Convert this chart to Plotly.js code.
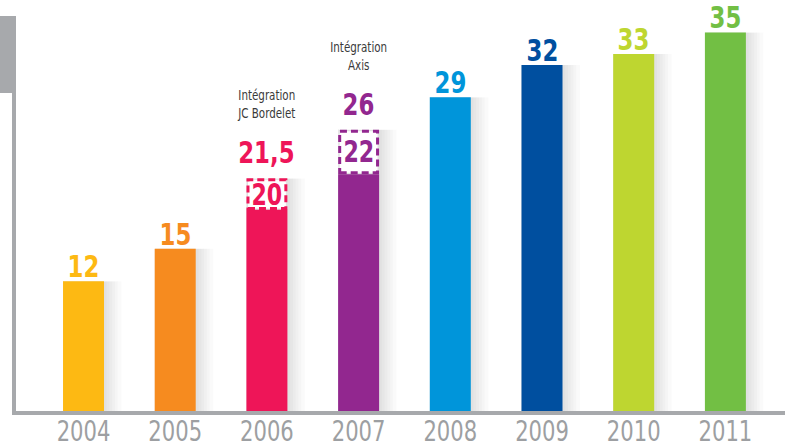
<!DOCTYPE html>
<html>
<head>
<meta charset="utf-8">
<script src="https://cdn.plot.ly/plotly-3.0.1.min.js"></script>
<style>html,body{margin:0;padding:0;background:#fff;}#chart{width:785px;height:446px;}</style>
</head>
<body>
<div id="chart"></div>
<script>
// ---- data ----
const years = ['2004', '2005', '2006', '2007', '2008', '2009', '2010', '2011'];
const totals = [12, 15, 21.5, 26, 29, 32, 33, 35];
const acquired = [0, 0, 2.9, 4.1, 0, 0, 0, 0];
const valueLabels = ['12', '15', '21,5', '26', '29', '32', '33', '35'];
const organicLabels = ['', '', '20', '22', '', '', '', ''];
const notes = ['', '', 'Intégration<br>JC Bordelet', 'Intégration<br>Axis', '', '', '', ''];
const colors = ['#fdb913', '#f68b1f', '#ee1558', '#92278f', '#0095da', '#004f9f', '#bed630', '#72bf44'];

// ---- styles ----
const COND = '"DejaVu Sans Condensed", "Liberation Sans Narrow", sans-serif';
const barW = 0.447;
const GRAY = '#a7a9ac';

const solid = totals.map((t, i) => t - acquired[i]);

const traces = [];
// soft shadow layers
[0.03, 0.06, 0.09, 0.12, 0.15, 0.19].forEach(d => {
  traces.push({
    type: 'bar', x: years, y: totals,
    width: barW + d, offset: -barW / 2,
    marker: {color: 'rgba(110,112,120,0.035)', line: {width: 0}},
    hoverinfo: 'skip', showlegend: false
  });
});
traces.push({
  type: 'bar', x: years, y: solid,
  width: barW, offset: -barW / 2,
  marker: {color: colors, line: {width: 0}},
  hoverinfo: 'skip', showlegend: false
});

const shapes = [];
// decorative frame: grey block top-left and left rule
shapes.push({type: 'rect', xref: 'paper', yref: 'paper', x0: -12 / 773, x1: 4 / 773, y0: 1 - 93 / 411, y1: 1 - 16 / 411,
  fillcolor: GRAY, line: {width: 0}, layer: 'below'});
shapes.push({type: 'rect', xref: 'paper', yref: 'paper', x0: 0, x1: 4 / 773, y0: -4 / 411, y1: 1 - 93 / 411,
  fillcolor: GRAY, line: {width: 0}, layer: 'below'});

const annotations = [];
years.forEach((yr, i) => {
  const extra = acquired[i] > 0 ? 11 : 0;
  if (acquired[i] > 0) {
    shapes.push({
      type: 'rect', xref: 'x', yref: 'y',
      x0: i - barW / 2 + 0.017, x1: i + barW / 2 - 0.017,
      y0: solid[i] + 0.13, y1: totals[i] - 0.13,
      fillcolor: '#ffffff', line: {color: colors[i], width: 3, dash: '7px,4px'}, layer: 'above'
    });
    annotations.push({
      x: i, y: solid[i] + acquired[i] / 2, xref: 'x', yref: 'y', yanchor: 'middle',
      text: '<b>' + organicLabels[i] + '</b>', showarrow: false,
      font: {family: COND, size: 30, color: colors[i]}
    });
  }
  annotations.push({
    x: i, y: totals[i], xref: 'x', yref: 'y', yanchor: 'bottom', yshift: -5 + extra,
    text: '<b>' + valueLabels[i] + '</b>', showarrow: false,
    font: {family: COND, size: 31, color: colors[i]}
  });
  if (notes[i]) {
    annotations.push({
      x: i, y: totals[i], xref: 'x', yref: 'y', yanchor: 'bottom', yshift: 44 + extra,
      text: notes[i], showarrow: false,
      font: {family: COND, size: 14, color: '#3a3a3a'}
    });
  }
});

const layout = {
  width: 785, height: 446,
  margin: {l: 12, r: 0, t: 0, b: 35, pad: 0},
  paper_bgcolor: '#ffffff', plot_bgcolor: '#ffffff',
  barmode: 'overlay',
  showlegend: false,
  xaxis: {
    type: 'category', range: [-0.78, 7.65],
    showline: true, linecolor: GRAY, linewidth: 4,
    showgrid: false, zeroline: false, ticks: '',
    ticklabelstandoff: -9,
    tickfont: {family: COND, size: 29, color: '#9d9fa2'}
  },
  yaxis: {
    range: [0, 38.0], visible: false, showgrid: false, zeroline: false, fixedrange: true
  },
  shapes: shapes,
  annotations: annotations
};

// condense text horizontally (the reference uses a condensed face)
function condense(sel, s) {
  document.querySelectorAll(sel).forEach(t => {
    const bb = t.getBBox();
    const cx = bb.x + bb.width / 2;
    const prev = t.getAttribute('transform') || '';
    t.setAttribute('transform', prev + ' translate(' + cx + ',0) scale(' + s + ',1) translate(' + (-cx) + ',0)');
  });
}

Plotly.newPlot('chart', traces, layout, {displayModeBar: false, staticPlot: true}).then(() => {
  condense('#chart .annotation-text', 0.82);
  condense('#chart .xtick text', 0.81);
});
</script>
</body>
</html>
